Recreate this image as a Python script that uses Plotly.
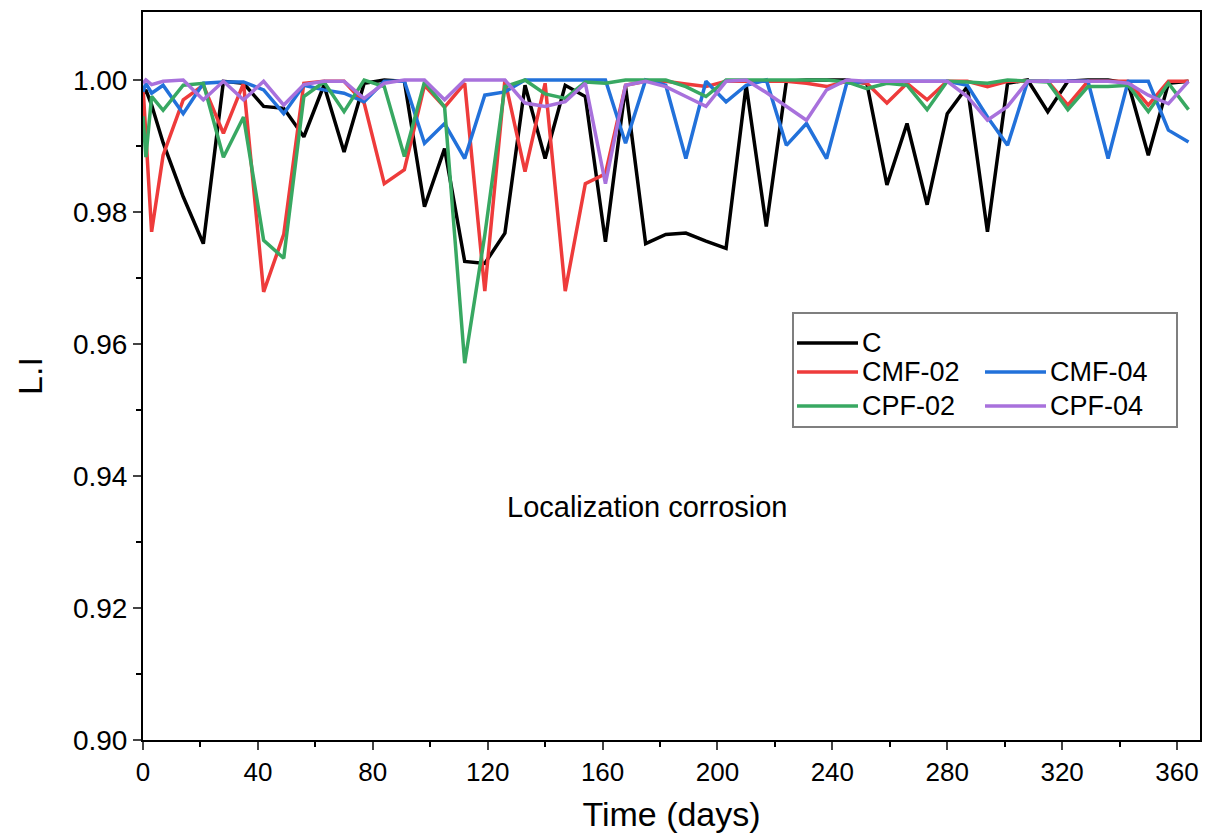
import plotly.graph_objects as go

days = [0, 1, 3, 7, 14, 21, 28, 35, 42, 49, 56, 63, 70, 77, 84, 91, 98, 105, 112, 119,
        126, 133, 140, 147, 154, 161, 168, 175, 182, 189, 196, 203, 210, 217, 224, 231,
        238, 245, 252, 259, 266, 273, 280, 287, 294, 301, 308, 315, 322, 329, 336, 343,
        350, 357, 364]

li_C = [0.9978, 0.9985, 0.9962, 0.9905, 0.9823, 0.9752, 0.9998, 0.9995, 0.9960, 0.9957,
        0.9914, 0.9992, 0.9891, 0.9995, 1.0000, 0.9998, 0.9808, 0.9896, 0.9725, 0.9722,
        0.9768, 0.9992, 0.9881, 0.9992, 0.9975, 0.9755, 0.9990, 0.9752, 0.9766, 0.9768,
        0.9756, 0.9745, 0.9992, 0.9778, 0.9998, 1.0000, 1.0000, 1.0000, 0.9995, 0.9841,
        0.9934, 0.9811, 0.9949, 0.9990, 0.9770, 0.9995, 1.0000, 0.9952, 0.9998, 1.0000,
        1.0000, 0.9995, 0.9886, 0.9995, 0.9998]

li_CMF02 = [0.9990, 0.9920, 0.9770, 0.9886, 0.9970, 0.9992, 0.9919, 0.9995, 0.9679, 0.9766,
            0.9995, 0.9998, 0.9998, 0.9965, 0.9843, 0.9864, 0.9992, 0.9959, 0.9995, 0.9680,
            1.0000, 0.9861, 0.9995, 0.9680, 0.9843, 0.9858, 0.9992, 0.9998, 0.9998, 0.9994,
            0.9990, 0.9998, 0.9998, 0.9998, 0.9998, 0.9995, 0.9990, 0.9998, 0.9995, 0.9965,
            0.9995, 0.9970, 0.9998, 0.9998, 0.9990, 0.9998, 0.9998, 0.9998, 0.9962, 0.9998,
            0.9998, 0.9998, 0.9962, 0.9998, 0.9998]

li_CMF04 = [0.9982, 0.9995, 0.9980, 0.9992, 0.9949, 0.9995, 0.9997, 0.9997, 0.9985, 0.9949,
            0.9992, 0.9985, 0.9980, 0.9967, 0.9998, 0.9998, 0.9904, 0.9934, 0.9881, 0.9977,
            0.9982, 1.0000, 1.0000, 1.0000, 1.0000, 1.0000, 0.9904, 1.0000, 0.9992, 0.9881,
            0.9998, 0.9967, 0.9992, 1.0000, 0.9901, 0.9934, 0.9881, 0.9995, 0.9998, 0.9998,
            0.9998, 0.9998, 0.9998, 0.9992, 0.9944, 0.9901, 0.9998, 0.9998, 0.9998, 0.9998,
            0.9881, 0.9998, 0.9998, 0.9924, 0.9906]

li_CPF02 = [0.9945, 0.9883, 0.9975, 0.9954, 0.9992, 0.9995, 0.9883, 0.9944, 0.9757, 0.9730,
            0.9975, 0.9997, 0.9952, 1.0000, 0.9990, 0.9884, 0.9997, 0.9959, 0.9571, 0.9765,
            0.9990, 1.0000, 0.9979, 0.9972, 0.9997, 0.9995, 1.0000, 1.0000, 1.0000, 0.9990,
            0.9975, 1.0000, 1.0000, 1.0000, 1.0000, 1.0000, 1.0000, 0.9997, 0.9987, 0.9995,
            0.9992, 0.9955, 0.9998, 0.9997, 0.9995, 1.0000, 0.9998, 0.9997, 0.9955, 0.9990,
            0.9990, 0.9992, 0.9952, 0.9995, 0.9955]

li_CPF04 = [0.9995, 1.0000, 0.9993, 0.9998, 1.0000, 0.9970, 0.9998, 0.9970, 0.9998, 0.9962,
            0.9993, 0.9998, 0.9998, 0.9972, 0.9995, 1.0000, 1.0000, 0.9970, 1.0000, 1.0000,
            1.0000, 0.9965, 0.9960, 0.9967, 0.9995, 0.9843, 0.9992, 0.9998, 0.9990, 0.9975,
            0.9960, 0.9998, 1.0000, 0.9981, 0.9960, 0.9939, 0.9985, 1.0000, 0.9998, 0.9998,
            0.9998, 0.9998, 0.9998, 0.9975, 0.9939, 0.9960, 0.9998, 0.9998, 0.9998, 0.9998,
            0.9998, 0.9995, 0.9977, 0.9964, 0.9998]

series_names = ["C", "CMF-02", "CMF-04", "CPF-02", "CPF-04"]
series_values = [li_C, li_CMF02, li_CMF04, li_CPF02, li_CPF04]
series_colors = ["#000000", "#EE3B3B", "#2271DA", "#38A862", "#A871DC"]

y_ticks = [0.90, 0.92, 0.94, 0.96, 0.98, 1.00]
x_ticks = [0, 40, 80, 120, 160, 200, 240, 280, 320, 360]

FONT = "Liberation Sans, Arial, sans-serif"

W, H = 1212, 833
L, R, T, B = 143, 12, 12, 93
pw, ph = W - L - R, H - T - B

def px(xp):
    return (xp - L) / pw

def py(yp):
    return (H - B - yp) / ph

fig = go.Figure()
for name, vals, col in zip(series_names, series_values, series_colors):
    fig.add_trace(go.Scatter(x=days, y=vals, mode="lines", name=name,
                             line=dict(color=col, width=3.5), showlegend=False))

# legend box laid out like the original (C on its own row, then two columns)
legend_slots = [(797, 343), (797, 372), (985, 372), (797, 406), (985, 406)]
shapes = [dict(type="rect", xref="paper", yref="paper",
               x0=px(793), x1=px(1177), y0=py(427), y1=py(313),
               line=dict(color="#7f7f7f", width=2), fillcolor="white", layer="below")]
annotations = [dict(x=175.5, y=0.9353, xref="x", yref="y", text="Localization corrosion",
                    showarrow=False, font=dict(size=29), xanchor="center", yanchor="middle")]
for name, col, (lx, ly) in zip(series_names, series_colors, legend_slots):
    shapes.append(dict(type="line", xref="paper", yref="paper",
                       x0=px(lx), x1=px(lx + 61), y0=py(ly), y1=py(ly),
                       line=dict(color=col, width=3.5)))
    annotations.append(dict(x=px(lx + 63), y=py(ly), xref="paper", yref="paper",
                            text=name, showarrow=False, xanchor="left", yanchor="middle",
                            font=dict(size=27)))

fig.update_layout(
    width=W, height=H,
    margin=dict(l=L, r=R, t=T, b=B, autoexpand=False),
    paper_bgcolor="white", plot_bgcolor="white",
    font=dict(family=FONT, size=24, color="black"),
    showlegend=False,
    xaxis=dict(range=[0, 368], tickvals=x_ticks, ticks="outside", ticklen=8, tickwidth=2,
               showline=True, linewidth=2, linecolor="black", mirror=True,
               showgrid=False, zeroline=False,
               minor=dict(tickvals=[20, 60, 100, 140, 180, 220, 260, 300, 340],
                          ticks="outside", ticklen=5, tickwidth=2, tickcolor="black"),
               tickfont=dict(size=26),
               title=dict(text="Time (days)", font=dict(size=34), standoff=16),
               automargin=False),
    yaxis=dict(range=[0.90, 1.0103], tickvals=y_ticks, tickformat=".2f",
               ticks="outside", ticklen=8, tickwidth=2,
               showline=True, linewidth=2, linecolor="black", mirror=True,
               showgrid=False, zeroline=False,
               minor=dict(tickvals=[0.91, 0.93, 0.95, 0.97, 0.99],
                          ticks="outside", ticklen=5, tickwidth=2, tickcolor="black"),
               tickfont=dict(size=28),
               title=dict(text="L.I", font=dict(size=34), standoff=20),
               automargin=False),
    shapes=shapes,
    annotations=annotations,
)

fig.write_html("out.html")
